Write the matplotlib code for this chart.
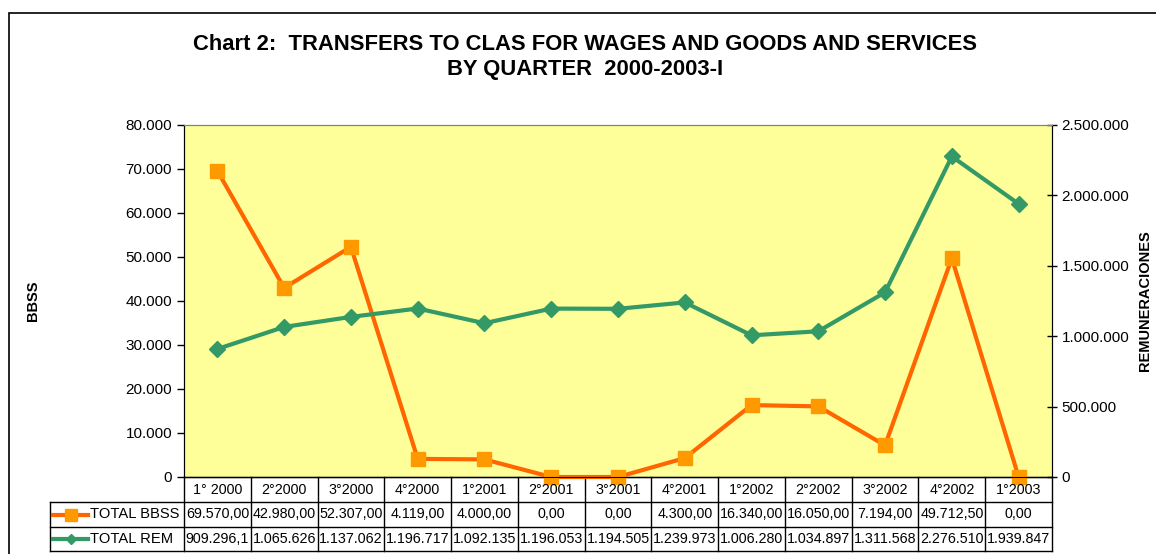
import numpy as np
import matplotlib.pyplot as plt
from matplotlib import font_manager
from matplotlib.transforms import blended_transform_factory
from matplotlib.ticker import FuncFormatter

quarters = ['1° 2000', '2°2000', '3°2000', '4°2000', '1°2001', '2°2001', '3°2001',
            '4°2001', '1°2002', '2°2002', '3°2002', '4°2002', '1°2003']
total_bbss = [69570.00, 42980.00, 52307.00, 4119.00, 4000.00, 0.00, 0.00,
              4300.00, 16340.00, 16050.00, 7194.00, 49712.50, 0.00]
total_rem = [909296.1, 1065626, 1137062, 1196717, 1092135, 1196053, 1194505,
             1239973, 1006280, 1034897, 1311568, 2276510, 1939847]


def es_num(v, dec=0):
    s = f"{v:,.{dec}f}"
    return s.replace(',', '#').replace('.', ',').replace('#', '.')


def rem_label(v):
    return es_num(v, 1) if v != int(v) else es_num(v)


names = {f.name for f in font_manager.fontManager.ttflist}
title_font = 'Liberation Sans Narrow' if 'Liberation Sans Narrow' in names else 'Liberation Sans'
plt.rcParams['font.family'] = ['Liberation Sans', 'DejaVu Sans']

W, H = 1156, 554
fig = plt.figure(figsize=(W / 100, H / 100), dpi=100)


def fx(px):
    return px / W


def fy(py):
    return 1 - py / H


# chart area border
fig.add_artist(plt.Rectangle((fx(8.5), fy(600)), fx(1200), fy(12.5) - fy(600),
                             fill=False, edgecolor='black', linewidth=1.2,
                             transform=fig.transFigure))

left, right, top, bottom = 184, 1052, 125, 477
ax = fig.add_axes([fx(left), fy(bottom), fx(right - left), fy(top) - fy(bottom)])
ax.set_facecolor('#FFFF99')
x = np.arange(len(quarters))

ax.plot(x, total_bbss, color='#FF6600', linewidth=3, marker='s', markersize=10,
        markerfacecolor='#FF9900', markeredgecolor='#FF9900', zorder=3, clip_on=False)
ax.set_xlim(-0.5, len(quarters) - 0.5)
ax.set_ylim(0, 80000)
ax.set_yticks(np.arange(0, 80001, 10000))
ax.yaxis.set_major_formatter(FuncFormatter(lambda v, p: es_num(v)))
ax.set_xticks([])
ax.tick_params(axis='y', direction='out', length=5, labelsize=11, width=1)
ax.set_ylabel('BBSS', fontsize=10.5, fontweight='bold', labelpad=0)
ax.yaxis.set_label_coords(fx(40 - left) / fx(right - left), 0.5)
for s in ['left', 'bottom']:
    ax.spines[s].set_color('black')
ax.spines['top'].set_color('#808080')

ax2 = ax.twinx()
ax2.plot(x, total_rem, color='#339966', linewidth=3, marker='D', markersize=8,
         markerfacecolor='#339966', markeredgecolor='#339966', zorder=3)
ax2.set_ylim(0, 2500000)
ax2.set_yticks(np.arange(0, 2500001, 500000))
ax2.yaxis.set_major_formatter(FuncFormatter(lambda v, p: es_num(v)))
ax2.tick_params(axis='y', direction='inout', length=7, labelsize=11, width=1)
ax2.set_ylabel('REMUNERACIONES', fontsize=10.5, fontweight='bold', labelpad=6)
ax2.spines['right'].set_color('black')
ax2.spines['top'].set_color('#808080')

fig.text(0.506, fy(44), 'Chart 2:  TRANSFERS TO CLAS FOR WAGES AND GOODS AND SERVICES',
         ha='center', va='center', fontsize=15.8, fontweight='bold', family=title_font)
fig.text(0.506, fy(70), 'BY QUARTER  2000-2003-I',
         ha='center', va='center', fontsize=15.8, fontweight='bold', family=title_font)

# data table below the axes
tr = blended_transform_factory(ax.transData, fig.transFigure)
rows = [bottom, 502, 527, 551]
lx = -0.5 - (left - 50) / ((right - left) / len(quarters))
line_kw = dict(color='black', linewidth=1, transform=tr, clip_on=False)
for i in range(len(quarters) + 1):
    ax.plot([i - 0.5, i - 0.5], [fy(rows[0]), fy(rows[-1])], **line_kw)
ax.plot([lx, lx], [fy(rows[1]), fy(rows[-1])], **line_kw)
ax.plot([-0.5, len(quarters) - 0.5], [fy(rows[0]), fy(rows[0])], **line_kw)
for r in rows[1:]:
    ax.plot([lx, len(quarters) - 0.5], [fy(r), fy(r)], **line_kw)

ymid = [(rows[k] + rows[k + 1]) / 2 for k in range(3)]
for i, q in enumerate(quarters):
    ax.text(i, fy(ymid[0]), q, ha='center', va='center', fontsize=10.3, transform=tr)
    ax.text(i, fy(ymid[1]), es_num(total_bbss[i], 2), ha='center', va='center',
            fontsize=10.3, transform=tr)
    ax.text(i, fy(ymid[2]), rem_label(total_rem[i]), ha='center', va='center',
            fontsize=10.3, transform=tr)

# legend keys in the table
for k, (lab, col, mk, mfc, ms) in enumerate([
        ('TOTAL BBSS', '#FF6600', 's', '#FF9900', 8),
        ('TOTAL REM', '#339966', 'D', '#339966', 5)]):
    yy = fy(ymid[k + 1])
    fig.add_artist(plt.Line2D([fx(53), fx(88)], [yy, yy], color=col, linewidth=3,
                              transform=fig.transFigure))
    fig.add_artist(plt.Line2D([fx(70.5)], [yy], marker=mk, markersize=ms, color=mfc,
                              linestyle='none', transform=fig.transFigure))
    fig.text(fx(90), yy, lab, ha='left', va='center', fontsize=10.6)

fig.savefig('out.png', dpi=100)
